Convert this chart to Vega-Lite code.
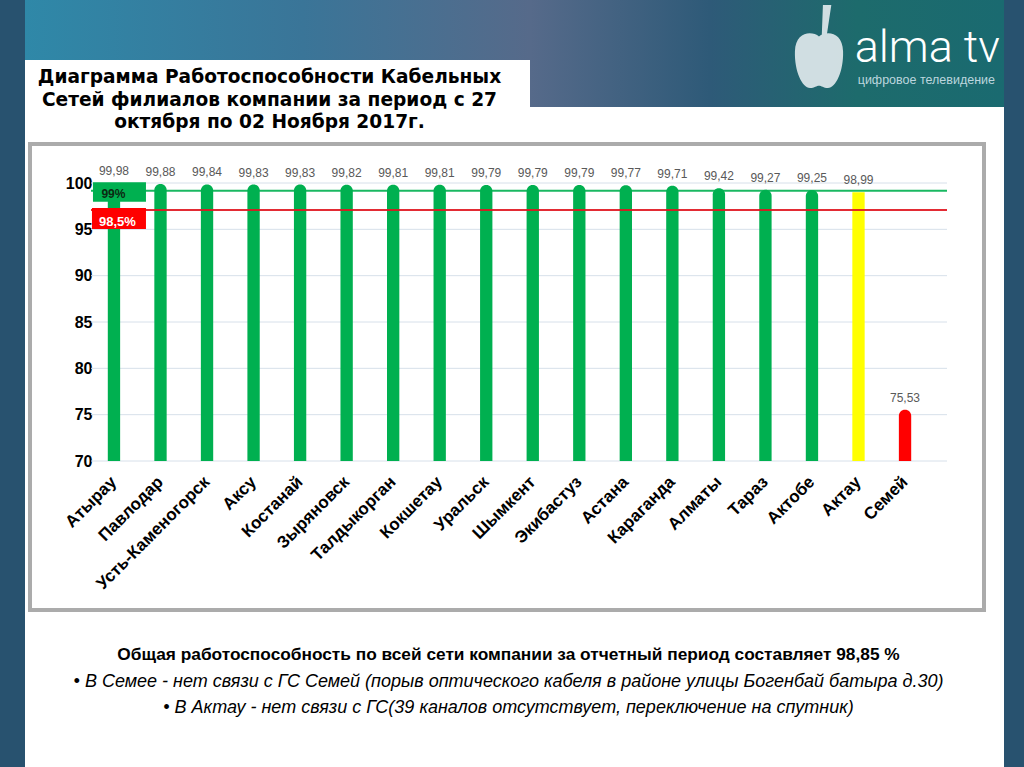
{
  "$schema": "https://vega.github.io/schema/vega-lite/v6.json",
  "background": "#28526f",
  "padding": {"left": 25, "right": 20, "top": 0, "bottom": 0},
  "spacing": 0,
  "config": {
    "view": {"stroke": null},
    "concat": {"spacing": 0},
    "locale": {"number": {"decimal": ",", "thousands": " ", "grouping": [3], "currency": ["", ""]}}
  },
  "datasets": {
    "cities": [
      {"city": "Атырау", "value": 99.98, "status": "green"},
      {"city": "Павлодар", "value": 99.88, "status": "green"},
      {"city": "Усть-Каменогорск", "value": 99.84, "status": "green"},
      {"city": "Аксу", "value": 99.83, "status": "green"},
      {"city": "Костанай", "value": 99.83, "status": "green"},
      {"city": "Зыряновск", "value": 99.82, "status": "green"},
      {"city": "Талдыкорган", "value": 99.81, "status": "green"},
      {"city": "Кокшетау", "value": 99.81, "status": "green"},
      {"city": "Уральск", "value": 99.79, "status": "green"},
      {"city": "Шымкент", "value": 99.79, "status": "green"},
      {"city": "Экибастуз", "value": 99.79, "status": "green"},
      {"city": "Астана", "value": 99.77, "status": "green"},
      {"city": "Караганда", "value": 99.71, "status": "green"},
      {"city": "Алматы", "value": 99.42, "status": "green"},
      {"city": "Тараз", "value": 99.27, "status": "green"},
      {"city": "Актобе", "value": 99.25, "status": "green"},
      {"city": "Актау", "value": 98.99, "status": "yellow"},
      {"city": "Семей", "value": 75.53, "status": "red"}
    ],
    "grid": [{"v": 70}, {"v": 75}, {"v": 80}, {"v": 85}, {"v": 90}, {"v": 95}, {"v": 100}],
    "refs": [
      {"name": "99%", "value": 99.17, "kind": "green"},
      {"name": "98,5%", "value": 97.09, "kind": "red"}
    ],
    "title": [
      {"line": 1, "text": "Диаграмма Работоспособности Кабельных"},
      {"line": 2, "text": "Сетей филиалов компании за период с 27"},
      {"line": 3, "text": "октября по 02 Ноября 2017г."}
    ],
    "notes": [
      {"line": 1, "text": "Общая работоспособность по всей сети компании за отчетный период составляет 98,85 %"},
      {"line": 2, "text": "• В Семее - нет связи с ГС Семей (порыв оптического кабеля в районе улицы Богенбай батыра д.30)"},
      {"line": 3, "text": "• В Актау - нет связи с ГС(39 каналов отсутствует, переключение на спутник)"}
    ],
    "none": []
  },
  "vconcat": [
    {
      "hconcat": [
        {
          "vconcat": [
            {
              "width": 505,
              "height": 60,
              "view": {"fill": {"gradient": "linear", "x1": 0, "y1": 0, "x2": 1, "y2": 0, "stops": [
                {"offset": 0, "color": "#2f88a8"},
                {"offset": 0.55, "color": "#3a7598"},
                {"offset": 1, "color": "#566a8a"}
              ]}},
              "data": {"name": "none"},
              "mark": {"type": "text", "text": ""}
            },
            {
              "width": 505,
              "height": 82,
              "view": {"fill": "white"},
              "data": {"name": "title"},
              "mark": {"type": "text", "font": "DejaVu Sans", "fontWeight": "bold", "fontSize": 18.6, "color": "#000000", "baseline": "middle", "dx": -8},
              "encoding": {
                "y": {"field": "line", "type": "ordinal", "scale": {"type": "point", "range": [17, 62], "padding": 0}, "axis": null},
                "text": {"field": "text"}
              }
            }
          ],
          "spacing": 0
        },
        {
          "vconcat": [
            {
              "width": 474,
              "height": 107,
              "view": {"fill": {"gradient": "linear", "x1": 0, "y1": 0, "x2": 1, "y2": 0, "stops": [
                {"offset": 0, "color": "#566a8a"},
                {"offset": 0.38, "color": "#2e5a78"},
                {"offset": 0.69, "color": "#1d6b6c"},
                {"offset": 1, "color": "#1a6a70"}
              ]}},
              "data": {"values": [{}]},
              "layer": [
                {
                  "mark": {"type": "point", "shape": "M0,-0.42 C0.12,-0.52 0.42,-0.52 0.43,-0.15 C0.44,0.2 0.3,0.5 0.16,0.5 C0.08,0.5 0.04,0.46 0,0.46 C-0.04,0.46 -0.08,0.5 -0.16,0.5 C-0.3,0.5 -0.44,0.2 -0.43,-0.15 C-0.42,-0.52 -0.12,-0.52 0,-0.42 Z M0.05,-0.45 L0.07,-0.98 L0.22,-0.98 L0.14,-0.45 Z", "size": 12544, "filled": true, "color": "#dfe8ec", "opacity": 0.92, "strokeWidth": 0, "xOffset": -185, "yOffset": 60},
                  "encoding": {"x": {"value": "width"}, "y": {"value": 0}}
                },
                {
                  "mark": {"type": "text", "text": "alma tv", "font": "Roboto", "fontWeight": 300, "fontSize": 45, "color": "#ffffff", "align": "right", "baseline": "alphabetic", "xOffset": -4, "yOffset": 62},
                  "encoding": {"x": {"value": "width"}, "y": {"value": 0}}
                },
                {
                  "mark": {"type": "text", "text": "цифровое телевидение", "font": "Liberation Sans", "fontSize": 12.5, "color": "#bcd6de", "align": "right", "baseline": "alphabetic", "xOffset": -9, "yOffset": 84},
                  "encoding": {"x": {"value": "width"}, "y": {"value": 0}}
                }
              ]
            },
            {
              "width": 474,
              "height": 35,
              "view": {"fill": "white"},
              "data": {"name": "none"},
              "mark": {"type": "text", "text": ""}
            }
          ],
          "spacing": 0
        }
      ],
      "spacing": 0
    },
    {
      "hconcat": [
        {
          "width": 3,
          "height": 470,
          "view": {"fill": "white"},
          "data": {"name": "none"},
          "mark": {"type": "text", "text": ""}
        },
        {
          "width": 4,
          "height": 470,
          "view": {"fill": "#ababab"},
          "data": {"name": "none"},
          "mark": {"type": "text", "text": ""}
        },
        {
          "vconcat": [
            {
              "width": 950,
              "height": 4,
              "view": {"fill": "#ababab"},
              "data": {"name": "none"},
              "mark": {"type": "text", "text": ""}
            },
            {
              "width": 950,
              "height": 462,
              "view": {"fill": "white"},
              "resolve": {"scale": {"x": "independent", "color": "independent"}},
              "layer": [
                {
                  "data": {"name": "grid"},
                  "mark": {"type": "rule", "color": "#d7e0ea", "strokeWidth": 1},
                  "encoding": {
                    "x": {"datum": 0, "type": "quantitative", "scale": {"domain": [0, 1], "range": [59, 915]}, "axis": null},
                    "x2": {"datum": 1},
                    "y": {"field": "v", "type": "quantitative", "title": null,
                      "scale": {"domain": [70, 100], "range": [315, 37], "nice": false, "zero": false},
                      "axis": {"orient": "left", "offset": -62, "values": [70, 75, 80, 85, 90, 95, 100], "labelPadding": 2, "ticks": false, "domain": false, "grid": false, "labelFont": "Liberation Sans", "labelFontWeight": "bold", "labelFontSize": 16, "labelColor": "#000000", "labelBaseline": "middle", "title": null}}
                  }
                },
                {
                  "data": {"name": "cities"},
                  "encoding": {
                    "x": {"field": "city", "type": "nominal", "sort": null, "title": null,
                      "scale": {"domain": ["Атырау", "Павлодар", "Усть-Каменогорск", "Аксу", "Костанай", "Зыряновск", "Талдыкорган", "Кокшетау", "Уральск", "Шымкент", "Экибастуз", "Астана", "Караганда", "Алматы", "Тараз", "Актобе", "Актау", "Семей"], "range": [58.7, 896.3], "paddingInner": 0.735, "paddingOuter": 0.3675},
                      "axis": {"orient": "bottom", "offset": -147, "labelAngle": -45, "labelAlign": "right", "labelBaseline": "middle", "labelPadding": 18, "labelFont": "Liberation Sans", "labelFontWeight": "bold", "labelFontSize": 17, "labelColor": "#000000", "labelOverlap": false, "labelLimit": 300, "ticks": false, "domain": false, "grid": false, "title": null}},
                    "y": {"field": "value", "type": "quantitative", "title": null}
                  },
                  "layer": [
                    {
                      "transform": [{"filter": "datum.status != 'yellow'"}],
                      "mark": {"type": "bar", "cornerRadiusTopLeft": 6, "cornerRadiusTopRight": 6},
                      "encoding": {
                        "y2": {"datum": 70},
                        "color": {"field": "status", "type": "nominal", "scale": {"domain": ["green", "yellow", "red"], "range": ["#00b050", "#ffff00", "#ff0000"]}, "legend": null}
                      }
                    },
                    {
                      "transform": [{"filter": "datum.status == 'yellow'"}],
                      "mark": {"type": "bar"},
                      "encoding": {
                        "y2": {"datum": 70},
                        "color": {"field": "status", "type": "nominal", "scale": {"domain": ["green", "yellow", "red"], "range": ["#00b050", "#ffff00", "#ff0000"]}, "legend": null}
                      }
                    },
                    {
                      "mark": {"type": "text", "font": "Liberation Sans", "fontSize": 12, "color": "#595959", "baseline": "alphabetic", "dy": -8},
                      "encoding": {"text": {"field": "value", "type": "quantitative", "format": ".2f"}}
                    }
                  ]
                },
                {
                  "data": {"name": "refs"},
                  "mark": {"type": "rule", "strokeWidth": 2, "opacity": 0.9},
                  "encoding": {
                    "x": {"datum": 0, "type": "quantitative", "scale": {"domain": [0, 1], "range": [59, 915]}, "axis": null},
                    "x2": {"datum": 1},
                    "y": {"field": "value", "type": "quantitative", "title": null},
                    "color": {"field": "kind", "type": "nominal", "scale": {"domain": ["green", "red"], "range": ["#00b050", "#e0141e"]}, "legend": null}
                  }
                },
                {
                  "data": {"name": "refs"},
                  "encoding": {
                    "x": {"datum": "Атырау", "type": "nominal",
                      "scale": {"domain": ["Атырау", "Павлодар", "Усть-Каменогорск", "Аксу", "Костанай", "Зыряновск", "Талдыкорган", "Кокшетау", "Уральск", "Шымкент", "Экибастуз", "Астана", "Караганда", "Алматы", "Тараз", "Актобе", "Актау", "Семей"], "range": [58.7, 896.3], "paddingInner": 0.735, "paddingOuter": 0.3675},
                      "axis": null},
                    "y": {"field": "value", "type": "quantitative", "title": null}
                  },
                  "layer": [
                    {
                      "transform": [{"filter": "datum.kind == 'green'"}],
                      "mark": {"type": "point", "shape": "M-1,-0.37H1V0.37H-1Z", "size": 2809, "filled": true, "color": "#00b050", "opacity": 1, "strokeWidth": 0, "xOffset": 5.5, "yOffset": 1.3}
                    },
                    {
                      "transform": [{"filter": "datum.kind == 'red'"}],
                      "mark": {"type": "point", "shape": "M-1,-0.39H1V0.39H-1Z", "size": 2916, "filled": true, "color": "#ff0000", "opacity": 1, "strokeWidth": 0, "xOffset": 5, "yOffset": 8.5}
                    },
                    {
                      "transform": [{"filter": "datum.kind == 'green'"}],
                      "mark": {"type": "text", "font": "Liberation Sans", "fontWeight": "bold", "fontSize": 12, "color": "#0b2a12", "baseline": "middle", "xOffset": -0.5, "yOffset": 3.3},
                      "encoding": {"text": {"field": "name"}}
                    },
                    {
                      "transform": [{"filter": "datum.kind == 'red'"}],
                      "mark": {"type": "text", "font": "Liberation Sans", "fontWeight": "bold", "fontSize": 13, "color": "#ffffff", "baseline": "middle", "xOffset": 3.5, "yOffset": 11.7},
                      "encoding": {"text": {"field": "name"}}
                    }
                  ]
                }
              ]
            },
            {
              "width": 950,
              "height": 4,
              "view": {"fill": "#ababab"},
              "data": {"name": "none"},
              "mark": {"type": "text", "text": ""}
            }
          ],
          "spacing": 0
        },
        {
          "width": 4,
          "height": 470,
          "view": {"fill": "#ababab"},
          "data": {"name": "none"},
          "mark": {"type": "text", "text": ""}
        },
        {
          "width": 18,
          "height": 470,
          "view": {"fill": "white"},
          "data": {"name": "none"},
          "mark": {"type": "text", "text": ""}
        }
      ],
      "spacing": 0
    },
    {
      "width": 979,
      "height": 155,
      "view": {"fill": "white"},
      "data": {"name": "notes"},
      "encoding": {
        "y": {"field": "line", "type": "ordinal", "scale": {"type": "point", "range": [43, 96], "padding": 0}, "axis": null},
        "text": {"field": "text"}
      },
      "layer": [
        {
          "transform": [{"filter": "datum.line == 1"}],
          "mark": {"type": "text", "font": "Liberation Sans", "fontWeight": "bold", "fontSize": 17.3, "color": "#000000", "baseline": "middle", "dx": -6}
        },
        {
          "transform": [{"filter": "datum.line > 1"}],
          "mark": {"type": "text", "font": "Liberation Sans", "fontStyle": "italic", "fontSize": 18, "color": "#000000", "baseline": "middle", "dx": -6}
        }
      ]
    }
  ]
}
